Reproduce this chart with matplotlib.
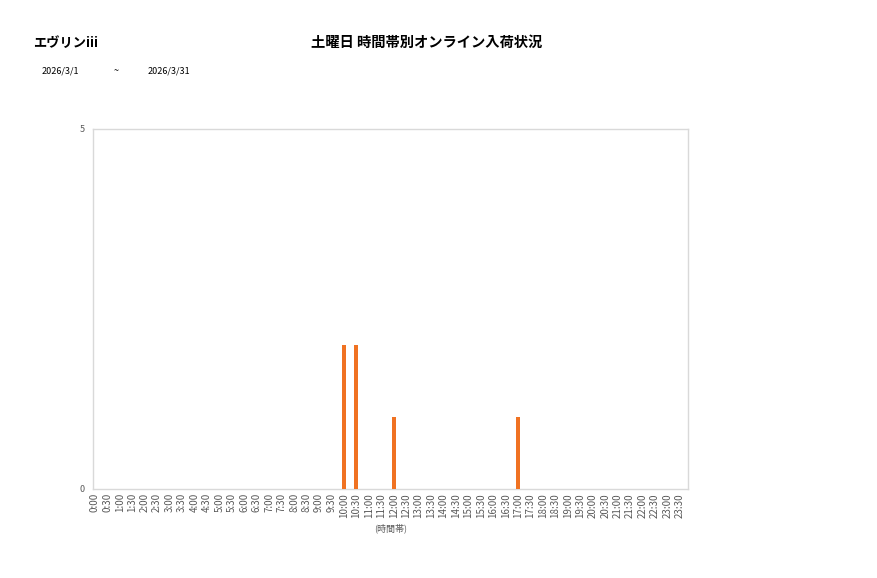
import matplotlib
matplotlib.use('Agg')
import matplotlib.pyplot as plt
import numpy as np

plt.rcParams['font.family'] = ['Noto Sans CJK JP', 'DejaVu Sans']

# --- datos ---
franjas = [f'{h}:{m:02d}' for h in range(24) for m in (0, 30)]
valores = [0] * 48
entradas = {'10:00': 2, '10:30': 2, '12:00': 1, '17:00': 1}
for k, v in entradas.items():
    valores[franjas.index(k)] = v

tienda = 'エヴリンiii'
titulo = '土曜日 時間帯別オンライン入荷状況'
fecha_ini = '2026/3/1'
fecha_fin = '2026/3/31'

# --- grafico ---
fig = plt.figure(figsize=(8.77, 5.78), dpi=100)
ax = fig.add_axes([93 / 877, 1 - 489 / 578, (688 - 93) / 877, (489 - 129) / 578])

x = np.arange(len(franjas))
ax.bar(x, valores, width=0.32, color='#F07222', zorder=3)

ax.set_xlim(-0.15, 47.65)
ax.set_ylim(0, 5)
ax.set_yticks([0, 5])
ax.set_xticks(x)
ax.set_xticklabels(franjas, rotation=90, fontsize=7, color='#595959')
ax.tick_params(axis='x', length=0, pad=3)
ax.tick_params(axis='y', length=0, labelsize=6.5, labelcolor='#595959', pad=6)
for s in ax.spines.values():
    s.set_color('#D9D9D9')
    s.set_linewidth(1)

fig.text(391 / 877, 1 - 528 / 578, '(時間帯)', ha='center', va='center', fontsize=6.5, color='#595959')

fig.text(33 / 877, 1 - 43 / 578, tienda, ha='left', va='center', fontsize=9.5, fontweight='bold')
fig.text(427 / 877, 1 - 43 / 578, titulo, ha='center', va='center', fontsize=10.3, fontweight='bold')
fig.text(42 / 877, 1 - 71 / 578, fecha_ini, ha='left', va='center', fontsize=6.5)
fig.text(116 / 877, 1 - 71 / 578, '~', ha='center', va='center', fontsize=6.5)
fig.text(148 / 877, 1 - 71 / 578, fecha_fin, ha='left', va='center', fontsize=6.5)

fig.savefig('out.png', dpi=100)
